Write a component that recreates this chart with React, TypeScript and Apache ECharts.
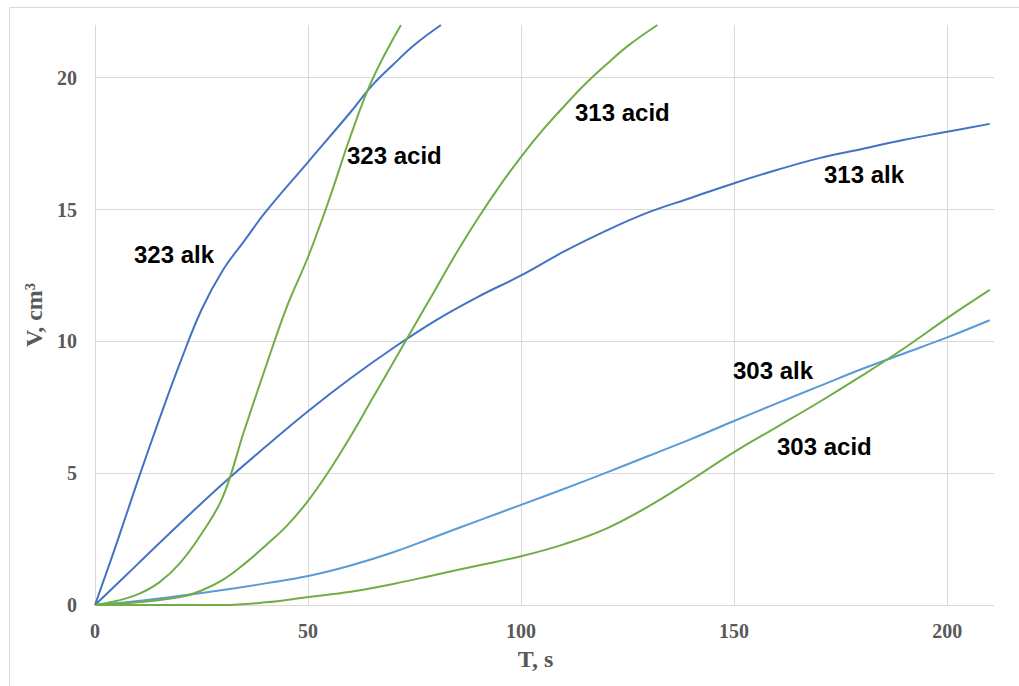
import React, { useEffect, useRef } from "react";
import * as echarts from "echarts";

// ---- data ----
const t323alk = [0, 5, 10, 15, 20, 25, 30, 35, 40, 50, 60, 65, 70, 75, 81.2];
const v323alk = [0, 2.3, 4.7, 7.0, 9.2, 11.2, 12.7, 13.8, 14.9, 16.8, 18.7, 19.7, 20.5, 21.25, 22.0];

const t323acid = [0, 5, 10, 15, 20, 25, 30, 35, 40, 45, 50, 55, 60, 65, 71.8];
const v323acid = [0, 0.15, 0.4, 0.85, 1.6, 2.7, 4.1, 6.6, 9.0, 11.3, 13.2, 15.4, 17.8, 19.9, 22.0];

const t313alk = [0, 10, 20, 30, 40, 50, 60, 70, 80, 90, 100, 110, 120, 130, 140, 150, 160, 170, 180, 190, 200, 210];
const v313alk = [0, 1.55, 3.1, 4.6, 6.0, 7.35, 8.6, 9.75, 10.8, 11.7, 12.5, 13.4, 14.2, 14.9, 15.45, 16.0, 16.5, 16.95, 17.3, 17.65, 17.95, 18.25];

const t313acid = [0, 10, 20, 25, 30, 35, 40, 45, 50, 55, 60, 65, 70, 75, 80, 85, 90, 95, 100, 105, 110, 115, 120, 125, 132];
const v313acid = [0, 0.1, 0.3, 0.55, 0.95, 1.55, 2.25, 3.0, 3.95, 5.1, 6.4, 7.8, 9.2, 10.6, 12.0, 13.4, 14.7, 15.9, 17.0, 18.0, 18.9, 19.75, 20.5, 21.2, 22.0];

const t303alk = [0, 10, 20, 30, 40, 50, 60, 70, 80, 90, 100, 110, 120, 130, 140, 150, 160, 170, 180, 190, 200, 210];
const v303alk = [0, 0.15, 0.35, 0.57, 0.82, 1.1, 1.5, 2.0, 2.6, 3.2, 3.8, 4.4, 5.02, 5.66, 6.3, 6.98, 7.65, 8.3, 8.95, 9.55, 10.15, 10.8];

const t303acid = [0, 10, 20, 30, 40, 50, 60, 70, 80, 90, 100, 110, 120, 130, 140, 150, 160, 170, 180, 190, 200, 210];
const v303acid = [0, 0, 0, 0, 0.1, 0.3, 0.5, 0.8, 1.15, 1.5, 1.85, 2.3, 2.9, 3.75, 4.75, 5.8, 6.75, 7.7, 8.7, 9.75, 10.88, 11.95];

const xTicks = [0, 50, 100, 150, 200];
const yTicks = [0, 5, 10, 15, 20];

const labels = [
  { text: "323 alk", x: 134, y: 254 },
  { text: "323 acid", x: 347, y: 155 },
  { text: "313 acid", x: 575, y: 112 },
  { text: "313 alk", x: 824, y: 174 },
  { text: "303 alk", x: 733, y: 370 },
  { text: "303 acid", x: 777, y: 446 },
];

const pairs = (t: number[], v: number[]) => t.map((x, i) => [x, v[i]]);

const DARK_BLUE = "#4472C4";
const LIGHT_BLUE = "#5B9BD5";
const GREEN = "#70AD47";

export default function App() {
  const ref = useRef<HTMLDivElement>(null);
  useEffect(() => {
    if (!ref.current) return;
    const chart = echarts.init(ref.current, null, { renderer: "svg" });
    const mk = (name: string, t: number[], v: number[], color: string) => ({
      name,
      type: "line",
      data: pairs(t, v),
      smooth: 0.4,
      symbol: "none",
      lineStyle: { color, width: 2 },
      itemStyle: { color },
      z: 3,
    });
    const serif = "'Liberation Serif', 'Times New Roman', serif";
    const tickFont = {
      fontFamily: serif,
      fontWeight: "bold",
      fontSize: 20,
      color: "#595959",
    };
    const nameFont = {
      fontFamily: serif,
      fontWeight: "bold",
      fontSize: 24,
      color: "#595959",
    };
    chart.setOption({
      animation: false,
      backgroundColor: "#ffffff",
      grid: { left: 95, right: 25, top: 25, bottom: 81, containLabel: false },
      xAxis: {
        type: "value",
        min: 0,
        max: 211,
        interval: 50,
        name: "T, s",
        nameLocation: "middle",
        nameGap: 42,
        nameTextStyle: { ...nameFont, padding: [0, 18, 0, 0] },
        axisLine: { show: false },
        axisTick: { show: false },
        axisLabel: {
          ...tickFont,
          margin: 16,
          showMaxLabel: false,
          formatter: (val: number) => (xTicks.includes(val) ? String(val) : ""),
        },
        splitLine: { show: true, showMaxLine: false, lineStyle: { color: "#d9d9d9", width: 1 } },
      },
      yAxis: {
        type: "value",
        min: 0,
        max: 22,
        interval: 5,
        name: "V, cm³",
        nameLocation: "middle",
        nameGap: 46,
        nameTextStyle: { ...nameFont },
        axisLine: { show: false },
        axisTick: { show: false },
        axisLabel: {
          ...tickFont,
          margin: 18,
          showMaxLabel: false,
          formatter: (val: number) => (yTicks.includes(val) ? String(val) : ""),
        },
        splitLine: { show: true, showMaxLine: false, lineStyle: { color: "#d9d9d9", width: 1 } },
      },
      series: [
        mk("323 alk", t323alk, v323alk, DARK_BLUE),
        mk("313 alk", t313alk, v313alk, DARK_BLUE),
        mk("303 alk", t303alk, v303alk, LIGHT_BLUE),
        mk("323 acid", t323acid, v323acid, GREEN),
        mk("313 acid", t313acid, v313acid, GREEN),
        mk("303 acid", t303acid, v303acid, GREEN),
      ],
      graphic: [
        {
          type: "polyline",
          shape: { points: [[9.5, 700], [9.5, 7.5], [1030, 7.5]] },
          style: { stroke: "#d9d9d9", fill: null, lineWidth: 1 },
          silent: true,
        },
        ...labels.map((l) => ({
          type: "text",
          x: l.x,
          y: l.y,
          style: {
            text: l.text,
            fill: "#000000",
            font: "bold 24px 'Liberation Sans', Arial, sans-serif",
            textAlign: "left",
            textVerticalAlign: "middle",
          },
          z: 10,
          silent: true,
        })),
      ],
    });
    return () => chart.dispose();
  }, []);
  return (
    <div
      ref={ref}
      style={{ position: "absolute", left: 0, top: 0, width: 1019, height: 686, background: "#fff" }}
    />
  );
}
